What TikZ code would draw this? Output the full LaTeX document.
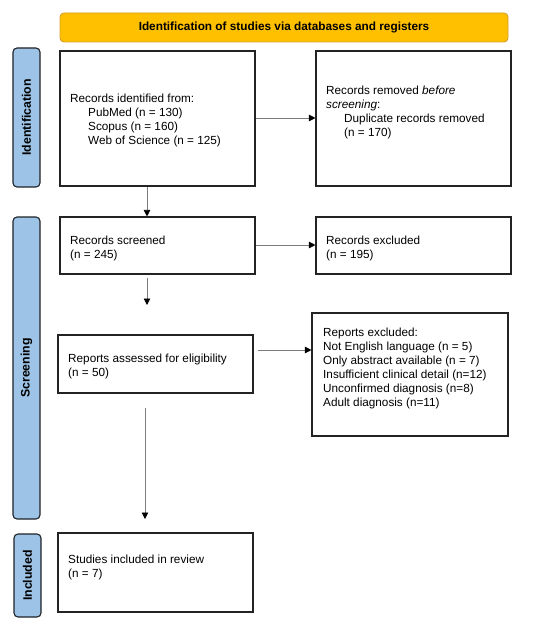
\documentclass[tikz,border=0pt]{standalone}
\usepackage{fontspec}
\setmainfont{Liberation Sans}
\usetikzlibrary{arrows.meta}
\definecolor{bannerfill}{RGB}{255,192,0}
\definecolor{bannerline}{RGB}{214,160,40}
\definecolor{sidefill}{RGB}{157,195,230}
\definecolor{sideline}{RGB}{30,35,40}
\definecolor{boxline}{RGB}{35,35,35}
\definecolor{arrline}{RGB}{125,125,125}
\tikzset{
  box/.style={draw=boxline, line width=1.1pt, fill=white, inner sep=0pt},
  sidebar/.style={draw=sideline, line width=1.1pt, fill=sidefill, rounded corners=4pt, inner sep=0pt},
  banner/.style={draw=bannerline, line width=0.9pt, fill=bannerfill, rounded corners=4pt, inner sep=0pt},
  txt/.style={anchor=north west, align=left, inner sep=0pt, font=\fontsize{11.75}{14}\selectfont},
  sidetxt/.style={rotate=90, inner sep=0pt, font=\fontsize{12.3}{14}\selectfont\bfseries},
  flow/.style={draw=arrline, line width=0.8pt, -{Triangle[length=6.5pt,width=6.5pt,fill=black,color=black]}},
}
\begin{document}
\begin{tikzpicture}[x=1pt,y=-1pt]
\useasboundingbox (0,0) rectangle (550,628);
% banner
\node[banner, minimum width=448pt, minimum height=29pt] (ban) at (284,27.5)
  {\fontsize{11.8}{14}\selectfont\bfseries Identification of studies via databases and registers};
% sidebars
\node[sidebar, minimum width=27pt, minimum height=139pt] (sid1) at (26.5,117.5) {};
\node[sidetxt] (sid1t) at (sid1.center) {Identification};
\node[sidebar, minimum width=27pt, minimum height=302pt] (sid2) at (26.5,368) {};
\node[sidetxt] (sid2t) at (sid2.center) {Screening};
\node[sidebar, minimum width=27pt, minimum height=83pt] (sid3) at (27.5,575.5) {};
\node[sidetxt] (sid3t) at (sid3.center) {Included};
% boxes
\node[box, minimum width=195pt, minimum height=135pt] (b1) at (157.5,118.5) {};
\node[box, minimum width=195pt, minimum height=135pt] (b2) at (413.5,118.5) {};
\node[box, minimum width=195pt, minimum height=57pt] (b3) at (157.5,245.5) {};
\node[box, minimum width=195pt, minimum height=57pt] (b4) at (413.5,245.5) {};
\node[box, minimum width=195pt, minimum height=58pt] (b5) at (155.5,364) {};
\node[box, minimum width=196pt, minimum height=123pt] (b6) at (410,374.5) {};
\node[box, minimum width=195pt, minimum height=79pt] (b7) at (155.5,572.5) {};
% texts
\node[txt] (t1) at (70,92.2) {\strut Records identified from:\\
  \hspace*{18pt}PubMed (n = 130)\\
  \hspace*{18pt}Scopus (n = 160)\\
  \hspace*{18pt}Web of Science (n = 125)};
\node[txt] (t2) at (326,84.2) {\strut Records removed \textit{before}\\
  \textit{screening}:\\
  \hspace*{18pt}Duplicate records removed\\
  \hspace*{18pt}(n = 170)};
\node[txt] (t3) at (70,234.2) {\strut Records screened\\(n = 245)};
\node[txt] (t4) at (326,234.2) {\strut Records excluded\\(n = 195)};
\node[txt] (t5) at (68,352.2) {\strut Reports assessed for eligibility\\(n = 50)};
\node[txt] (t6) at (323,326.2) {\strut Reports excluded:\\
  Not English language (n = 5)\\
  Only abstract available (n = 7)\\
  Insufficient clinical detail (n=12)\\
  Unconfirmed diagnosis (n=8)\\
  Adult diagnosis (n=11)};
\node[txt] (t7) at (68,553.2) {\strut Studies included in review\\(n = 7)};
% connectors
\coordinate (a3end) at (147,305);
\coordinate (a5start) at (145,408);
\coordinate (a5end) at (145,519);
\coordinate (a4start) at (258,350);
\draw[flow] (b1.east |- 0,118) -- (b2.west |- 0,118);
\draw[flow] (b1.south -| 147,0) -- (b3.north -| 147,0);
\draw[flow] (b3.east |- 0,245) -- (b4.west |- 0,245);
\draw[flow] (b3.south -| 147,0) ++(0,3) -- (a3end);
\draw[flow] (a4start) -- (b6.west |- 0,350);
\draw[flow] (a5start) -- (a5end);
\end{tikzpicture}
\end{document}
